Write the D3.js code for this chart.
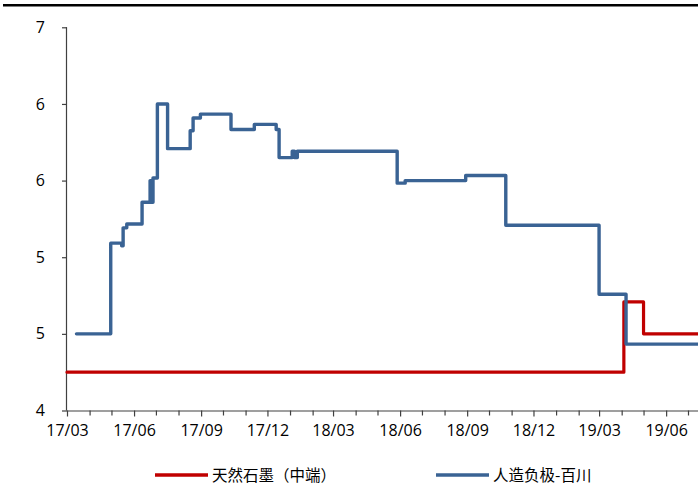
<!DOCTYPE html>
<html>
<head>
<meta charset="utf-8">
<script src="https://cdn.jsdelivr.net/npm/d3@7"></script>
<style>
  html, body { margin: 0; padding: 0; background: #fff; }
  svg { display: block; }
  text { font-family: "Open Sans", "Noto Sans CJK SC", sans-serif; fill: #000; }
  .legend text { font-family: "Noto Sans CJK SC", sans-serif; }
</style>
</head>
<body>
<svg id="chart" width="698" height="489"></svg>
<script>
// Price series (step changes: a date and the level that starts on it)
const seriesNames = ["天然石墨（中端）", "人造负极-百川"];

const naturalDates  = ["2017-03-01", "2019-04-04", "2019-05-01", "2019-07-15"];
const naturalValues = [4.30, 4.85, 4.60, 4.60];

const artificialDates = [
  "2017-03-14", "2017-04-30", "2017-05-15", "2017-05-17", "2017-05-22",
  "2017-06-12", "2017-06-23", "2017-06-25", "2017-06-27", "2017-07-03",
  "2017-07-17", "2017-08-17", "2017-08-21", "2017-08-31", "2017-10-12",
  "2017-11-13", "2017-12-13", "2017-12-17", "2018-01-04", "2018-01-07",
  "2018-01-11", "2018-05-28", "2018-06-08", "2018-08-30", "2018-10-24",
  "2019-03-01", "2019-04-07", "2019-07-15"
];
const artificialValues = [
  4.60, 5.31, 5.29, 5.43, 5.46,
  5.63, 5.80, 5.63, 5.82, 6.40,
  6.05, 6.19, 6.29, 6.32, 6.20,
  6.24, 6.20, 5.98, 6.03, 5.98,
  6.03, 5.78, 5.80, 5.84, 5.45,
  4.91, 4.52, 4.52
];

// Axis ticks
const yTicks = [4, 4.6, 5.2, 5.8, 6.4, 7];
const xTickLabels = ["17/03", "17/06", "17/09", "17/12", "18/03", "18/06", "18/09", "18/12", "19/03", "19/06"];

const colors = ["#C00000", "#3A6394"];

const parseDate = d3.timeParse("%Y-%m-%d");
const parseLabel = d3.timeParse("%y/%m");

const svg = d3.select("#chart");
const width = 698;

// Top rule
svg.append("line")
  .attr("x1", 3).attr("x2", width)
  .attr("y1", 5.2).attr("y2", 5.2)
  .attr("stroke", "#000").attr("stroke-width", 2.6);

const x = d3.scaleTime()
  .domain([parseDate("2017-03-01"), parseDate("2019-07-01")])
  .range([67, 688]);

const y = d3.scaleLinear()
  .domain([4, 7])
  .range([410.5, 27.3]);

const axisColor = "#404040";

// Y axis
const yAxis = svg.append("g")
  .attr("transform", `translate(${x.range()[0]},0)`)
  .call(d3.axisLeft(y).tickValues(yTicks).tickFormat(d3.format(".0f")).tickSize(5).tickPadding(17));
yAxis.select(".domain").attr("stroke", axisColor).attr("stroke-width", 1.2)
  .attr("d", `M-0.5,${y(4)}V${y(7)}`);
yAxis.selectAll(".tick line").attr("stroke", axisColor).attr("stroke-width", 1.2);
yAxis.selectAll(".tick text").attr("font-size", 16).attr("fill", "#000")
  .style("font-family", "'Open Sans', sans-serif");

// X axis: monthly ticks, labels every quarter
const monthTicks = d3.timeMonth.range(parseDate("2017-03-01"), parseDate("2019-07-16"));
const labelDates = xTickLabels.map(parseLabel);
const labelSet = new Set(labelDates.map(d => +d));

const xAxis = svg.append("g")
  .attr("transform", `translate(0,${y(4)})`)
  .call(d3.axisBottom(x).tickValues(monthTicks)
    .tickFormat(d => labelSet.has(+d) ? d3.timeFormat("%y/%m")(d) : "")
    .tickSize(5).tickPadding(9));
xAxis.select(".domain").attr("stroke", axisColor).attr("stroke-width", 1.2)
  .attr("d", `M${x.range()[0]},0.5H${width}`);
xAxis.selectAll(".tick line").attr("stroke", axisColor).attr("stroke-width", 1.2)
  .attr("y2", d => labelSet.has(+d) ? 6 : 5);
xAxis.selectAll(".tick text").attr("font-size", 16).attr("fill", "#000")
  .style("font-family", "'Open Sans', sans-serif");

// Lines
const series = [
  { dates: naturalDates, values: naturalValues },
  { dates: artificialDates, values: artificialValues }
];

const line = d3.line()
  .x(d => x(d[0]))
  .y(d => y(d[1]))
  .curve(d3.curveStepAfter);

series.forEach((s, i) => {
  const pts = s.dates.map((d, k) => [parseDate(d), s.values[k]]);
  svg.append("path")
    .datum(pts)
    .attr("fill", "none")
    .attr("stroke", colors[i])
    .attr("stroke-width", i === 0 ? 3.2 : 3.4)
    .attr("stroke-linejoin", "round")
    .attr("stroke-linecap", "round")
    .attr("d", line);
});

// Legend
const legendItems = [
  { x: 155, name: seriesNames[0], color: colors[0] },
  { x: 436, name: seriesNames[1], color: colors[1] }
];
const legend = svg.append("g").attr("class", "legend");
legendItems.forEach(item => {
  legend.append("line")
    .attr("x1", item.x).attr("x2", item.x + 53)
    .attr("y1", 475).attr("y2", 475)
    .attr("stroke", item.color).attr("stroke-width", 3.4);
  legend.append("text")
    .attr("x", item.x + 57).attr("y", 475)
    .attr("dy", "0.36em")
    .attr("font-size", 15.5)
    .text(item.name);
});
</script>
</body>
</html>
